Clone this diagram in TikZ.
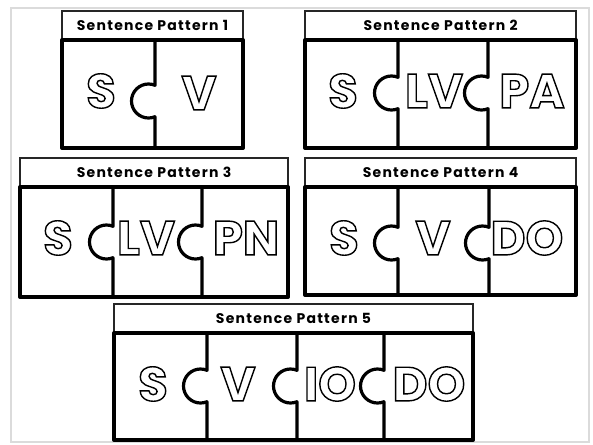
\documentclass[tikz,border=0pt]{standalone}
\usepackage{fontspec}
\setmainfont{Poppins}
\newfontfamily\titlefont{Poppins}[LetterSpace=9]
\definecolor{framegray}{gray}{0.86}
\tikzset{
  titlebox/.style={rectangle, draw=black!85, line width=1.2pt, fill=white, inner sep=0pt, font=\titlefont\bfseries\fontsize{14}{14}\selectfont},
  piecebox/.style={draw=black, line width=4pt, line join=round},
  joint/.style={draw=black, line width=3.2pt, line join=round},
  tile/.style={inner sep=0pt, font=\bfseries\fontsize{48}{48}\selectfont},
}
% outlined letters: stroke only
\newcommand{\hollow}[1]{\special{pdf:literal direct q 1 Tr 1.4 w 0 G}#1\special{pdf:literal direct Q}}

\begin{document}
\begin{tikzpicture}[x=1pt, y=-1pt]
  \useasboundingbox (0,0) rectangle (593,444);
  \draw[framegray, line width=2pt] (11,8) rectangle (589,442);

  % --- PATTERN 1 (top left) ---
  \node[titlebox, minimum width=181pt, minimum height=29pt] (T1) at (152.5,25.5) {Sentence Pattern 1};
  \foreach \lbl/\lx/\ly [count=\i] in {S/101/91, V/199/93} {
    \node[tile] (P1-\i) at (\lx,\ly) {\hollow{\lbl}};
  }
  \draw[piecebox] (62,40) rectangle (243,148);
  \foreach \dx in {155} {
    \draw[joint] (\dx,40) -- (\dx,101-15.7) arc[start angle=-67.5, end angle=-292.5, radius=17] -- (\dx,148);
  }

  % --- PATTERN 2 (top right) ---
  \node[titlebox, minimum width=271pt, minimum height=29pt] (T2) at (440.5,25.5) {Sentence Pattern 2};
  \foreach \lbl/\lx/\ly [count=\i] in {S/343/91, LV/434/91, PA/532/91} {
    \node[tile] (P2-\i) at (\lx,\ly) {\hollow{\lbl}};
  }
  \draw[piecebox] (305,40) rectangle (576,148);
  \foreach \dx in {398,488} {
    \draw[joint] (\dx,40) -- (\dx,93-15.7) arc[start angle=-67.5, end angle=-292.5, radius=17] -- (\dx,148);
  }

  % --- PATTERN 3 (middle left) ---
  \node[titlebox, minimum width=268pt, minimum height=29pt] (T3) at (154,172.5) {Sentence Pattern 3};
  \foreach \lbl/\lx/\ly [count=\i] in {S/58/238, LV/146/238, PN/246/238} {
    \node[tile] (P3-\i) at (\lx,\ly) {\hollow{\lbl}};
  }
  \draw[piecebox] (20,187) rectangle (288,297);
  \foreach \dx in {113,202} {
    \draw[joint] (\dx,187) -- (\dx,242-15.7) arc[start angle=-67.5, end angle=-292.5, radius=17] -- (\dx,297);
  }

  % --- PATTERN 4 (middle right) ---
  \node[titlebox, minimum width=271pt, minimum height=29pt] (T4) at (440.5,172.5) {Sentence Pattern 4};
  \foreach \lbl/\lx/\ly [count=\i] in {S/344/238, V/433/238, DO/527/238} {
    \node[tile] (P4-\i) at (\lx,\ly) {\hollow{\lbl}};
  }
  \draw[piecebox] (305,187) rectangle (576,295);
  \foreach \dx in {398,489} {
    \draw[joint] (\dx,187) -- (\dx,243-15.7) arc[start angle=-67.5, end angle=-292.5, radius=17] -- (\dx,295);
  }

  % --- PATTERN 5 (bottom) ---
  \node[titlebox, minimum width=359pt, minimum height=29pt] (T5) at (293.5,318.5) {Sentence Pattern 5};
  \foreach \lbl/\lx/\ly [count=\i] in {S/153/384, V/238/384, IO/330/384, DO/429/384} {
    \node[tile] (P5-\i) at (\lx,\ly) {\hollow{\lbl}};
  }
  \draw[piecebox] (114,333) rectangle (473,440);
  \foreach \dx in {207,297,384} {
    \draw[joint] (\dx,333) -- (\dx,386-15.7) arc[start angle=-67.5, end angle=-292.5, radius=17] -- (\dx,440);
  }
\end{tikzpicture}
\end{document}
